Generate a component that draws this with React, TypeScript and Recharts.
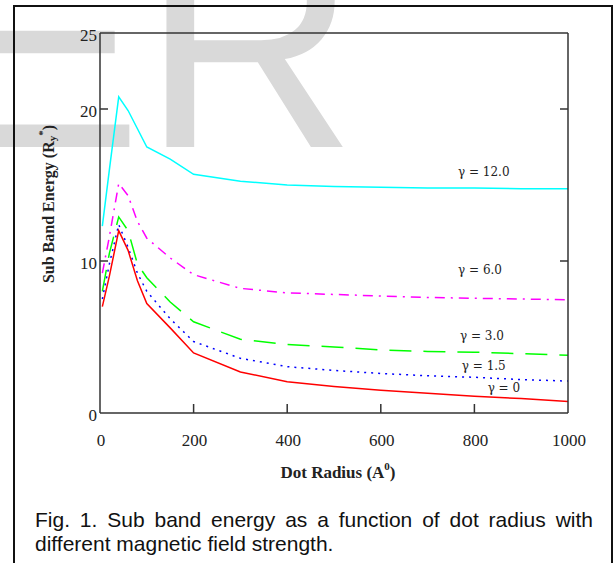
import { Line, LineChart, ReferenceDot, XAxis, YAxis } from "recharts";

// dot radius (Å) and sub band energy (Ry*) for each field strength
const radius = [5, 20, 40, 60, 80, 100, 150, 200, 300, 400, 500, 600, 700, 800, 900, 1000];
const gamma12 = [12.3, 16.0, 20.8, 19.9, 18.7, 17.5, 16.7, 15.7, 15.25, 15.0, 14.9, 14.85, 14.8, 14.8, 14.75, 14.75];
const gamma6 = [9.2, 11.6, 15.1, 14.3, 12.6, 11.5, 10.2, 9.1, 8.2, 7.9, 7.8, 7.7, 7.6, 7.55, 7.5, 7.45];
const gamma3 = [8.0, 10.5, 12.9, 12.0, 9.8, 8.9, 7.3, 6.0, 4.85, 4.5, 4.35, 4.15, 4.05, 4.0, 3.9, 3.8];
const gamma15 = [7.5, 9.8, 12.4, 10.9, 9.2, 8.0, 6.2, 4.7, 3.6, 3.05, 2.8, 2.6, 2.45, 2.35, 2.2, 2.1];
const gamma0 = [7.0, 9.0, 12.0, 10.7, 8.7, 7.2, 5.6, 3.95, 2.7, 2.05, 1.75, 1.5, 1.3, 1.1, 0.95, 0.75];

const xTicks = [0, 200, 400, 600, 800, 1000];
const yTicks = [0, 10, 20, 25];

const curveLabels = [
  { text: "γ = 12.0", x: 820, y: 15.9 },
  { text: "γ = 6.0", x: 812, y: 9.4 },
  { text: "γ = 3.0", x: 816, y: 5.07 },
  { text: "γ = 1.5", x: 820, y: 3.1 },
  { text: "γ = 0", x: 863, y: 1.68 },
];

const data = radius.map((r, i) => ({
  r,
  g12: gamma12[i],
  g6: gamma6[i],
  g3: gamma3[i],
  g15: gamma15[i],
  g0: gamma0[i],
}));

const axisColor = "#333";
const textColor = "#222";
const serif = "'Liberation Serif', 'Times New Roman', serif";

const isInner = (v: number, lo: number, hi: number) => v !== lo && v !== hi;

function BottomTick(props: any) {
  const { x, y, payload } = props;
  return (
    <g>
      {isInner(payload.value, 0, 1000) && (
        <line x1={x} y1={y} x2={x} y2={y - 9} stroke={axisColor} strokeWidth={1.5} />
      )}
      <text x={x + 1} y={y + 27} textAnchor="middle" dominantBaseline="central" fontFamily={serif} fontSize={17} fill={textColor}>
        {payload.value}
      </text>
    </g>
  );
}

function TopTick(props: any) {
  const { x, y, payload } = props;
  if (!isInner(payload.value, 0, 1000)) return <g />;
  return <line x1={x} y1={y} x2={x} y2={y + 8} stroke={axisColor} strokeWidth={1.5} />;
}

function LeftTick(props: any) {
  const { x, y, payload } = props;
  return (
    <g>
      {isInner(payload.value, 0, 25) && (
        <line x1={x} y1={y} x2={x + 8} y2={y} stroke={axisColor} strokeWidth={1.5} />
      )}
      <text x={x - 3} y={y + 2} textAnchor="end" dominantBaseline="central" fontFamily={serif} fontSize={17} fill={textColor}>
        {payload.value}
      </text>
    </g>
  );
}

function RightTick(props: any) {
  const { x, y, payload } = props;
  if (!isInner(payload.value, 0, 25)) return <g />;
  return <line x1={x} y1={y} x2={x - 8} y2={y} stroke={axisColor} strokeWidth={1.5} />;
}

function XTitle(props: any) {
  const vb = props.viewBox;
  const cx = vb.x + vb.width / 2 + 4;
  return (
    <text x={cx} y={472} textAnchor="middle" dominantBaseline="central" fontFamily={serif} fontWeight="bold" fontSize={17} fill={textColor}>
      Dot Radius (A
      <tspan dy={-6} fontSize={11}>0</tspan>
      <tspan dy={6}>)</tspan>
    </text>
  );
}

function YTitle(props: any) {
  const vb = props.viewBox;
  const cx = 48;
  const cy = vb.y + vb.height / 2 - 19;
  return (
    <text
      x={cx}
      y={cy}
      transform={`rotate(-90, ${cx}, ${cy})`}
      textAnchor="middle"
      dominantBaseline="central"
      fontFamily={serif}
      fontWeight="bold"
      fontSize={16}
      fill={textColor}
    >
      Sub Band Energy (R
      <tspan dy={4} fontSize={11}>y</tspan>
      <tspan dy={-10} fontSize={11}>*</tspan>
      <tspan dy={6}>)</tspan>
    </text>
  );
}

export default function App() {
  return (
    <div style={{ position: "absolute", left: 0, top: 0, width: 616, height: 563, overflow: "hidden", background: "#fff" }}>
      {/* faint watermark behind the figure */}
      <svg width={616} height={563} style={{ position: "absolute", left: 0, top: 0 }}>
        <text x={-56} y={147} fontFamily="'Liberation Sans', Arial, sans-serif" fontSize={297} fill="#d9d9d9">
          ER
        </text>
      </svg>
      <div
        style={{
          position: "absolute",
          left: 13,
          top: 5,
          width: 596,
          height: 620,
          border: "2px solid #111",
        }}
      />
      <div style={{ position: "absolute", left: 0, top: 0 }}>
        <LineChart width={616} height={563} data={data} margin={{ top: 0, right: 0, bottom: 0, left: 0 }}>
          <XAxis
            dataKey="r"
            type="number"
            domain={[0, 1000]}
            ticks={xTicks}
            height={150}
            tickSize={0}
            tickMargin={0}
            tickLine={false}
            tick={<BottomTick />}
            axisLine={{ stroke: axisColor, strokeWidth: 1.5 }}
            label={<XTitle />}
          />
          <XAxis
            xAxisId="top"
            orientation="top"
            type="number"
            domain={[0, 1000]}
            ticks={xTicks}
            height={33}
            tickSize={0}
            tickMargin={0}
            tickLine={false}
            tick={<TopTick />}
            axisLine={{ stroke: axisColor, strokeWidth: 1.5 }}
            allowDataOverflow
          />
          <YAxis
            type="number"
            domain={[0, 25]}
            ticks={yTicks}
            width={100}
            tickSize={0}
            tickMargin={0}
            tickLine={false}
            tick={<LeftTick />}
            axisLine={{ stroke: axisColor, strokeWidth: 1.5 }}
            label={<YTitle />}
          />
          <YAxis
            yAxisId="right"
            orientation="right"
            type="number"
            domain={[0, 25]}
            ticks={yTicks}
            width={48}
            tickSize={0}
            tickMargin={0}
            tickLine={false}
            tick={<RightTick />}
            axisLine={{ stroke: axisColor, strokeWidth: 1.5 }}
            allowDataOverflow
          />
          <Line type="linear" dataKey="g12" stroke="#00ffff" strokeWidth={1.5} dot={false} isAnimationActive={false} />
          <Line type="linear" dataKey="g6" stroke="#ff00ff" strokeWidth={1.5} strokeDasharray="10 6 2 6" dot={false} isAnimationActive={false} />
          <Line type="linear" dataKey="g3" stroke="#00ff00" strokeWidth={1.5} strokeDasharray="22 12" dot={false} isAnimationActive={false} />
          <Line type="linear" dataKey="g15" stroke="#0000ff" strokeWidth={1.5} strokeDasharray="2 5" dot={false} isAnimationActive={false} />
          <Line type="linear" dataKey="g0" stroke="#ff0000" strokeWidth={1.5} dot={false} isAnimationActive={false} />
          {curveLabels.map((l) => (
            <ReferenceDot
              key={l.text}
              x={l.x}
              y={l.y}
              r={0}
              fill="none"
              stroke="none"
              label={{ value: l.text, position: "center", fontSize: 12, fontFamily: "'DejaVu Serif', serif", fill: textColor }}
            />
          ))}
        </LineChart>
      </div>
      <div
        style={{
          position: "absolute",
          left: 35,
          top: 508,
          width: 558,
          fontFamily: "'Liberation Sans', Arial, sans-serif",
          fontSize: 21,
          lineHeight: "24px",
          textAlign: "justify",
          color: "#111",
        }}
      >
        Fig. 1. Sub band energy as a function of dot radius with different magnetic field strength.
      </div>
    </div>
  );
}
